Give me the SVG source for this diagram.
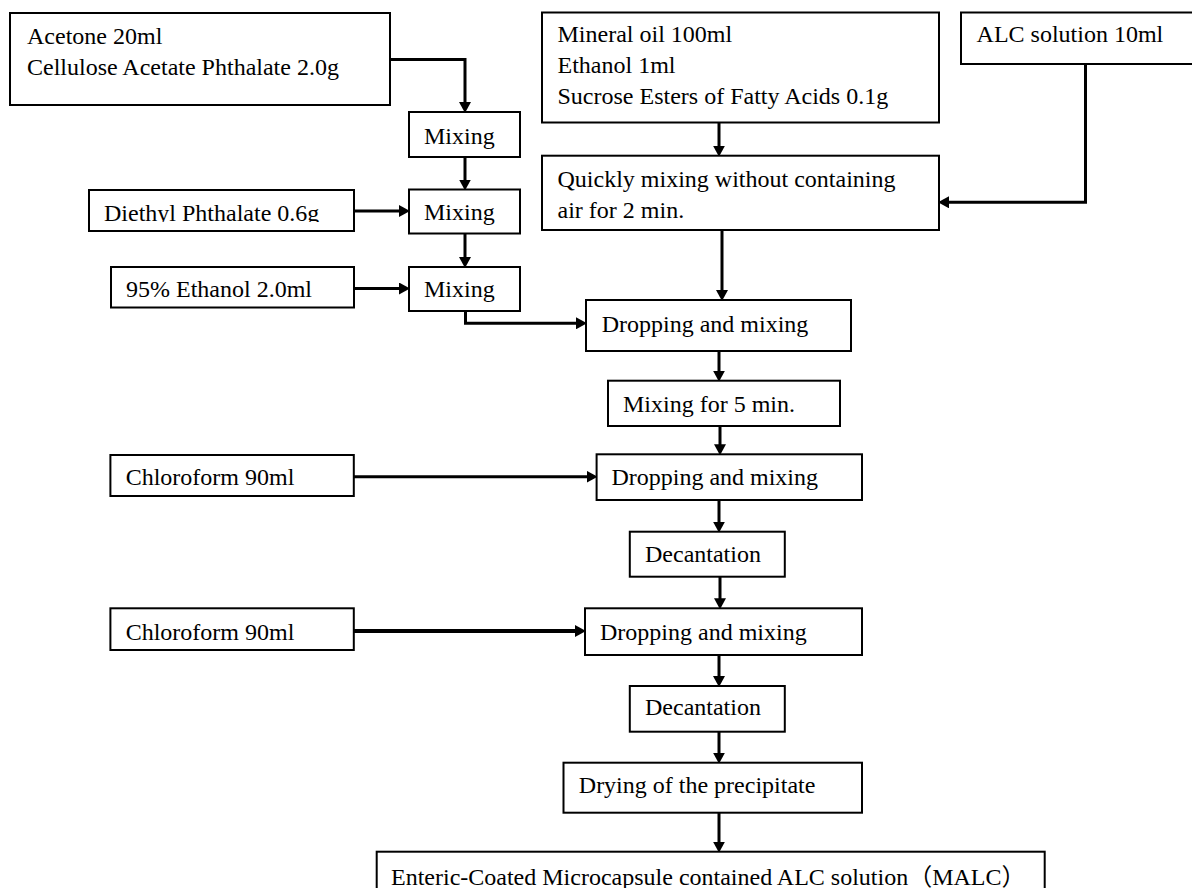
<svg xmlns="http://www.w3.org/2000/svg" width="1192" height="888" viewBox="0 0 1192 888">
<style>
.box{fill:#fff;stroke:#000;stroke-width:2}
.t{font-family:"Liberation Serif","Times New Roman","Noto Sans CJK JP",serif;font-size:24px;fill:#000}
.c{fill:none;stroke:#000;stroke-width:3;marker-end:url(#ah)}
.thick{stroke-width:4}
</style>
<defs>
<marker id="ah" markerUnits="userSpaceOnUse" markerWidth="11" markerHeight="12" viewBox="0 0 11 12" refX="5" refY="6" orient="auto">
<path d="M0,0 L11,6 L0,12 z" fill="#000"/>
</marker>
<clipPath id="clipDiethyl"><rect x="80" y="185" width="280" height="37"/></clipPath>
</defs>
<rect width="1192" height="888" fill="#fff"/>
<g id="connectors">
<path class="c" d="M390,59.5 H465 V107"/>
<path class="c" d="M465,157 V184.5"/>
<path class="c" d="M354,211 H404"/>
<path class="c" d="M465,233.5 V262"/>
<path class="c" d="M354,288.5 H404"/>
<path class="c" d="M465.5,311 V323.3 H581"/>
<path class="c" d="M719,122.7 V150.7"/>
<path class="c" d="M1085.5,64 V202.3 H944"/>
<path class="c" d="M722,230 V295"/>
<path class="c" d="M719,351 V375.7"/>
<path class="c" d="M720,426 V449.3"/>
<path class="c" d="M353.8,476.7 H591.6"/>
<path class="c" d="M719,500 V526.7"/>
<path class="c" d="M720,576.7 V603.3"/>
<path class="c thick" d="M353.8,631 H580"/>
<path class="c" d="M719,655 V681"/>
<path class="c" d="M719,731.7 V757.7"/>
<path class="c" d="M719,812.7 V846.7"/>
</g>
<g id="n-acetone"><rect class="box" x="10" y="13" width="380" height="92"/><text class="t" x="27" y="43.5">Acetone 20ml</text><text class="t" x="27" y="74.5">Cellulose Acetate Phthalate 2.0g</text></g>
<g id="n-mixing1"><rect class="box" x="409" y="112" width="111" height="45"/><text class="t" x="424" y="143.5">Mixing</text></g>
<g id="n-diethyl"><rect class="box" x="89" y="190" width="265" height="41"/><text class="t" x="104" y="220.5" clip-path="url(#clipDiethyl)">Diethyl Phthalate 0.6g</text></g>
<g id="n-mixing2"><rect class="box" x="409" y="189.5" width="111" height="44"/><text class="t" x="424" y="220">Mixing</text></g>
<g id="n-ethanol"><rect class="box" x="111" y="267" width="243" height="40.5"/><text class="t" x="126" y="297">95% Ethanol 2.0ml</text></g>
<g id="n-mixing3"><rect class="box" x="409" y="267" width="111" height="44"/><text class="t" x="424" y="297">Mixing</text></g>
<g id="n-mineral"><rect class="box" x="542" y="12.5" width="397" height="110"/><text class="t" x="557.5" y="41.7">Mineral oil 100ml</text><text class="t" x="557.5" y="72.7">Ethanol 1ml</text><text class="t" x="557.5" y="104">Sucrose Esters of Fatty Acids 0.1g</text></g>
<g id="n-alc"><rect class="box" x="961" y="12.5" width="232" height="51.5"/><text class="t" x="976.6" y="41.7">ALC solution 10ml</text></g>
<g id="n-quickly"><rect class="box" x="542" y="155.7" width="397" height="74.3"/><text class="t" x="557.5" y="186.7">Quickly mixing without containing</text><text class="t" x="557.5" y="218.3">air for 2 min.</text></g>
<g id="n-dropping1"><rect class="box" x="586" y="300" width="265" height="51"/><text class="t" x="601.7" y="331.7">Dropping and mixing</text></g>
<g id="n-mixing5"><rect class="box" x="608" y="380.7" width="232" height="45.3"/><text class="t" x="623" y="411.7">Mixing for 5 min.</text></g>
<g id="n-chloro1"><rect class="box" x="110.4" y="455" width="243.4" height="41"/><text class="t" x="125.7" y="485">Chloroform 90ml</text></g>
<g id="n-dropping2"><rect class="box" x="596.6" y="454.3" width="265.4" height="45.7"/><text class="t" x="611.4" y="485">Dropping and mixing</text></g>
<g id="n-decant1"><rect class="box" x="629.8" y="531.7" width="155" height="45"/><text class="t" x="645" y="561.7">Decantation</text></g>
<g id="n-chloro2"><rect class="box" x="110.4" y="608.3" width="243.4" height="41.7"/><text class="t" x="125.7" y="640">Chloroform 90ml</text></g>
<g id="n-dropping3"><rect class="box" x="585" y="608.3" width="277" height="46.7"/><text class="t" x="600" y="640">Dropping and mixing</text></g>
<g id="n-decant2"><rect class="box" x="629.8" y="686" width="155" height="45.7"/><text class="t" x="645" y="715">Decantation</text></g>
<g id="n-drying"><rect class="box" x="563.5" y="762.7" width="298.5" height="50"/><text class="t" x="578.8" y="793.3">Drying of the precipitate</text></g>
<g id="n-final"><rect class="box" x="376.7" y="851.7" width="668" height="60"/><text class="t" x="391" y="885">Enteric-Coated Microcapsule contained ALC solution（MALC）</text></g>
</svg>
